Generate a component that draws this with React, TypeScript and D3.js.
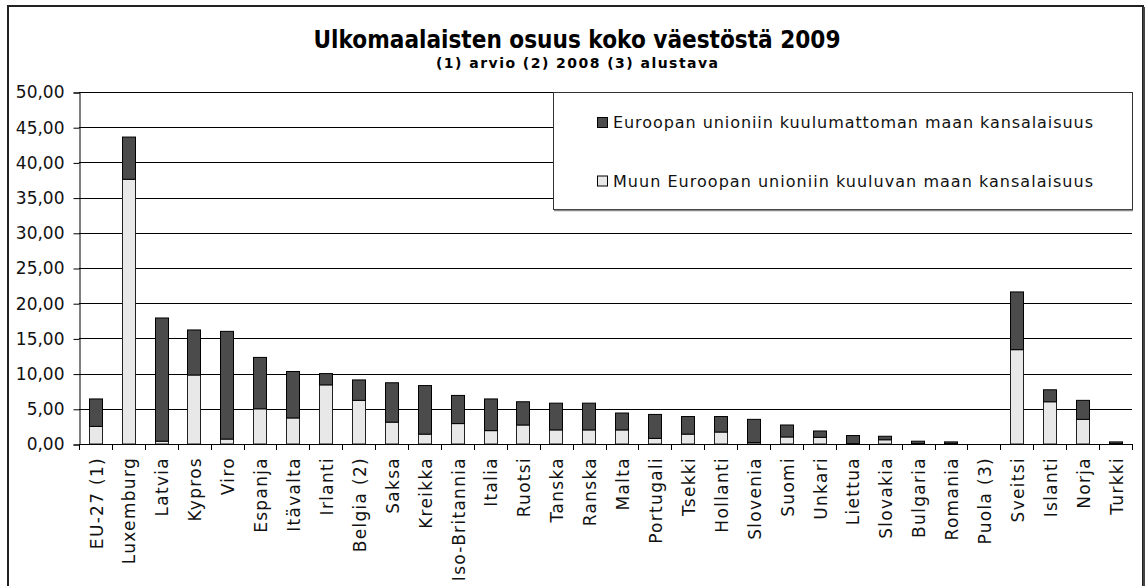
import React, { useEffect, useRef } from 'react';
import * as d3 from 'd3';

const countries = [
  'EU-27 (1)', 'Luxemburg', 'Latvia', 'Kypros', 'Viro', 'Espanja', 'Itävalta', 'Irlanti',
  'Belgia (2)', 'Saksa', 'Kreikka', 'Iso-Britannia', 'Italia', 'Ruotsi', 'Tanska', 'Ranska',
  'Malta', 'Portugali', 'Tsekki', 'Hollanti', 'Slovenia', 'Suomi', 'Unkari', 'Liettua',
  'Slovakia', 'Bulgaria', 'Romania', 'Puola (3)', 'Sveitsi', 'Islanti', 'Norja', 'Turkki'
];

// Muun Euroopan unioniin kuuluvan maan kansalaisuus
const euCitizens = [
  2.5, 37.6, 0.4, 9.8, 0.7, 5.0, 3.7, 8.4,
  6.2, 3.1, 1.4, 2.9, 1.9, 2.7, 2.0, 2.0,
  2.0, 0.8, 1.4, 1.7, 0.2, 1.0, 0.95, 0.05,
  0.6, 0.05, 0.05, 0, 13.4, 6.0, 3.5, 0.05
];

// Euroopan unioniin kuulumattoman maan kansalaisuus
const nonEuCitizens = [
  3.9, 6.0, 17.5, 6.4, 15.3, 7.3, 6.6, 1.6,
  2.9, 5.6, 6.9, 4.0, 4.5, 3.3, 3.8, 3.8,
  2.4, 3.4, 2.5, 2.2, 3.3, 1.7, 0.9, 1.15,
  0.5, 0.35, 0.25, 0, 8.2, 1.7, 2.7, 0.25
];

const yTicks = [0, 5, 10, 15, 20, 25, 30, 35, 40, 45, 50];

const legendLabels = [
  'Euroopan unioniin kuulumattoman maan kansalaisuus',
  'Muun Euroopan unioniin kuuluvan maan kansalaisuus'
];

const DARK = '#4b4b4b';
const LIGHT = '#e8e8e8';
const FONT = '"DejaVu Sans", Verdana, sans-serif';

const App = () => {
  const chartRef = useRef<SVGSVGElement>(null);

  useEffect(() => {
    const svg = d3.select(chartRef.current);
    svg.selectAll('*').remove();

    const left = 79, right = 1132, top = 92, bottom = 444;

    // outer frame
    svg.append('rect')
      .attr('x', 8).attr('y', 6)
      .attr('width', 1135).attr('height', 592)
      .attr('fill', 'white')
      .attr('stroke', '#222').attr('stroke-width', 2);
    svg.append('line')
      .attr('x1', 1144).attr('x2', 1144).attr('y1', 7).attr('y2', 586)
      .attr('stroke', '#444').attr('stroke-width', 2);

    const x = d3.scaleBand<string>()
      .domain(countries)
      .range([left, right])
      .paddingInner(0.59)
      .paddingOuter(0.295);

    const y = d3.scaleLinear()
      .domain([0, 50])
      .range([bottom, top]);

    const fmt = (v: number) => d3.format('.2f')(v).replace('.', ',');

    // gridlines
    svg.append('g')
      .selectAll('line')
      .data(yTicks.filter(d => d > 0))
      .join('line')
      .attr('x1', left).attr('x2', right)
      .attr('y1', d => Math.round(y(d)) + 0.5)
      .attr('y2', d => Math.round(y(d)) + 0.5)
      .attr('stroke', '#000').attr('stroke-width', 1);

    // y axis
    const yAxis = svg.append('g')
      .attr('transform', `translate(${left + 0.5},0.5)`)
      .call(d3.axisLeft(y).tickValues(yTicks).tickFormat(d => fmt(d as number)).tickSize(6).tickPadding(9));
    yAxis.select('.domain').attr('stroke', '#000');
    yAxis.selectAll('text')
      .attr('font-family', FONT).attr('font-size', 17).attr('fill', '#111');

    // x axis ticks at band boundaries
    const step = x.step();
    const boundaries = d3.range(countries.length + 1).map(i => left + i * step);
    svg.append('g')
      .selectAll('line')
      .data(boundaries)
      .join('line')
      .attr('x1', d => Math.round(d) + 0.5).attr('x2', d => Math.round(d) + 0.5)
      .attr('y1', bottom).attr('y2', bottom + 6)
      .attr('stroke', '#000');

    // stacked bars
    const bars = svg.append('g');
    countries.forEach((c, i) => {
      const eu = euCitizens[i];
      const non = nonEuCitizens[i];
      const bx = Math.round(x(c)!) + 0.5;
      const bw = Math.round(x.bandwidth());
      if (eu > 0) {
        bars.append('rect')
          .attr('x', bx).attr('width', bw)
          .attr('y', y(eu)).attr('height', y(0) - y(eu))
          .attr('fill', LIGHT).attr('stroke', '#222').attr('stroke-width', 1);
      }
      if (non > 0) {
        bars.append('rect')
          .attr('x', bx).attr('width', bw)
          .attr('y', y(eu + non)).attr('height', y(eu) - y(eu + non))
          .attr('fill', DARK).attr('stroke', '#000').attr('stroke-width', 1);
      }
    });

    // x axis line
    svg.append('line')
      .attr('x1', left).attr('x2', right)
      .attr('y1', bottom + 0.5).attr('y2', bottom + 0.5)
      .attr('stroke', '#000');

    // category labels
    svg.append('g')
      .selectAll('text')
      .data(countries)
      .join('text')
      .attr('transform', d => `translate(${x(d)! + x.bandwidth() / 2 + 1},${bottom + 13}) rotate(-90)`)
      .attr('text-anchor', 'end')
      .attr('dy', '0.36em')
      .attr('font-family', FONT)
      .attr('font-size', 17)
      .attr('letter-spacing', 1.3)
      .attr('fill', '#111')
      .text(d => d);

    // legend
    const legend = svg.append('g');
    legend.append('rect')
      .attr('x', 553.5).attr('y', 92.5)
      .attr('width', right - 553).attr('height', 117)
      .attr('fill', 'white')
      .attr('stroke', '#333').attr('stroke-width', 1);
    legend.append('line')
      .attr('x1', 554).attr('x2', right + 1).attr('y1', 210.5).attr('y2', 210.5)
      .attr('stroke', '#888').attr('stroke-width', 1.5);
    [DARK, LIGHT].forEach((col, i) => {
      const ly = 117.5 + i * 58.5;
      legend.append('rect')
        .attr('x', 597.5).attr('y', ly)
        .attr('width', 10).attr('height', 10)
        .attr('fill', col).attr('stroke', '#000');
      legend.append('text')
        .attr('x', 613).attr('y', ly + 10.5)
        .attr('font-family', FONT).attr('font-size', 16)
        .attr('textLength', 480).attr('lengthAdjust', 'spacing')
        .attr('fill', '#111')
        .text(legendLabels[i]);
    });

    // titles
    svg.append('text')
      .attr('x', 577).attr('y', 48)
      .attr('text-anchor', 'middle')
      .attr('font-family', FONT).attr('font-size', 24).attr('font-weight', 'bold')
      .attr('textLength', 527).attr('lengthAdjust', 'spacingAndGlyphs')
      .text('Ulkomaalaisten osuus koko väestöstä 2009');
    svg.append('text')
      .attr('x', 577).attr('y', 68)
      .attr('text-anchor', 'middle')
      .attr('font-family', FONT).attr('font-size', 14).attr('font-weight', 'bold')
      .attr('textLength', 282).attr('lengthAdjust', 'spacing')
      .text('(1) arvio (2) 2008 (3) alustava');
  }, []);

  return (
    <svg ref={chartRef} width={1146} height={586}
      style={{ position: 'absolute', left: 0, top: 0, background: 'white' }} />
  );
};

export default App;
